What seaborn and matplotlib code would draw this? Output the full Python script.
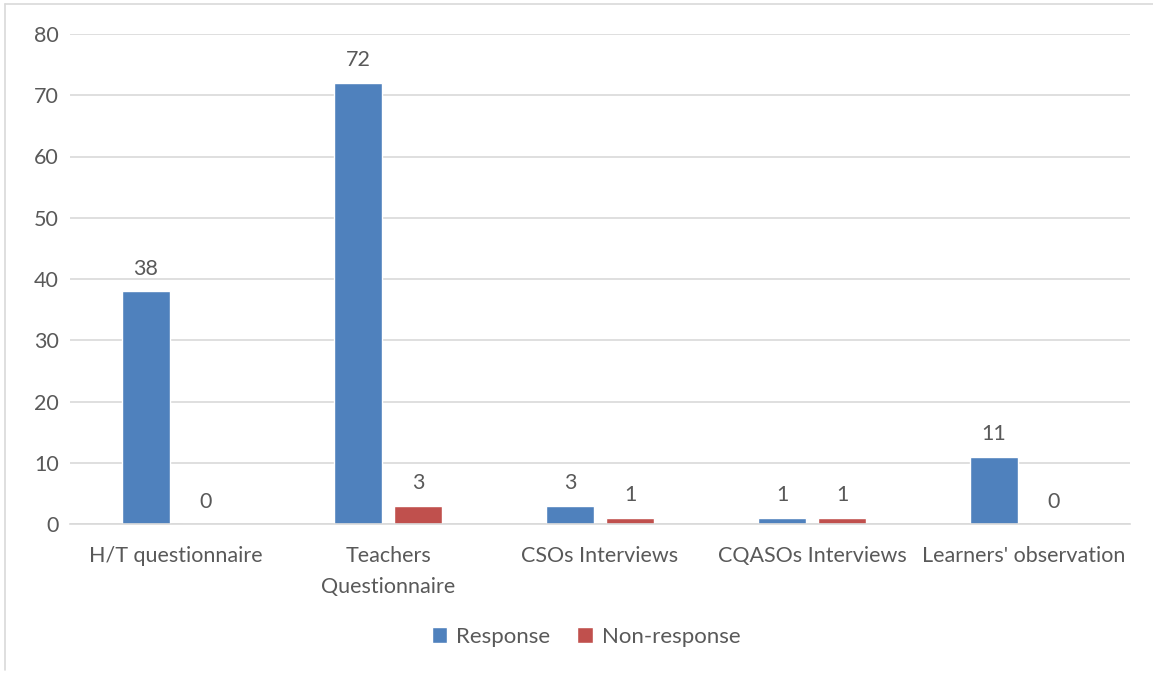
import matplotlib
matplotlib.use("Agg")
import matplotlib.pyplot as plt
import seaborn as sns
import pandas as pd
from matplotlib.lines import Line2D

categories = ["H/T questionnaire", "Teachers\nQuestionnaire", "CSOs Interviews",
              "CQASOs Interviews", "Learners' observation"]
response = [38, 72, 3, 1, 11]
non_response = [0, 3, 1, 1, 0]
series = ["Response", "Non-response"]
colors = ["#4F81BD", "#C0504D"]
yticks = [0, 10, 20, 30, 40, 50, 60, 70, 80]

df = pd.DataFrame({
    "category": categories * 2,
    "value": response + non_response,
    "series": [series[0]] * len(categories) + [series[1]] * len(categories),
})

sns.set_theme(style="white")
plt.rcParams['font.family'] = ['Lato', 'DejaVu Sans']
text_color = "#595959"
fs = 15.5

fig = plt.figure(figsize=(11.53, 6.74), dpi=100)
ax = fig.add_axes([70 / 1153, 1 - 524 / 674, 1060 / 1153, 490 / 674])

sns.barplot(data=df, x="category", y="value", hue="series", palette=colors,
            width=0.566, gap=0.2, ax=ax, saturation=1, legend=True)

ax.set_ylim(0, 80)
ax.set_yticks(yticks)
ax.set_xlim(-0.5, len(categories) - 0.5)
ax.yaxis.grid(True, color="#D9D9D9", linewidth=1.2)
ax.set_axisbelow(True)
for s in ["top", "right", "left"]:
    ax.spines[s].set_visible(False)
ax.spines["bottom"].set_color("#D9D9D9")
ax.spines["bottom"].set_linewidth(1.2)
ax.tick_params(axis="both", length=0, labelsize=fs, colors=text_color)
ax.tick_params(axis="x", pad=16)
ax.tick_params(axis="y", pad=8)
ax.set_xlabel("")
ax.set_ylabel("")
for lab in ax.get_xticklabels():
    lab.set_linespacing(1.7)

for cont in ax.containers:
    ax.bar_label(cont, fmt="%d", padding=9, fontsize=fs, color=text_color)

handles, labels = ax.get_legend_handles_labels()
ax.legend(handles, labels, loc="center", bbox_to_anchor=(586 / 1153, 1 - 637 / 674),
          bbox_transform=fig.transFigure, ncol=2, frameon=False, fontsize=16,
          labelcolor=text_color, handlelength=0.7, handleheight=0.7,
          handletextpad=0.4, columnspacing=1.2)

border = "#D9D9D9"
fig.add_artist(Line2D([5 / 1153, 5 / 1153], [1 - 670 / 674, 1 - 4 / 674],
                      transform=fig.transFigure, color=border, linewidth=1.2))
fig.add_artist(Line2D([5 / 1153, 1], [1 - 4 / 674, 1 - 4 / 674],
                      transform=fig.transFigure, color=border, linewidth=1.2))

fig.savefig("out.png", dpi=100)
